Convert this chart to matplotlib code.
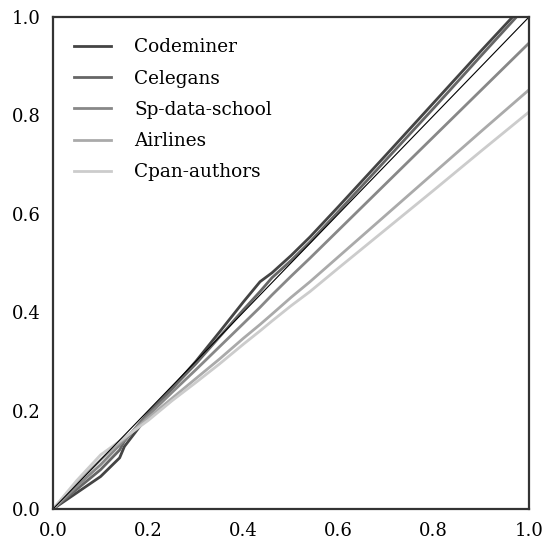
import numpy as np
import matplotlib.pyplot as plt

plt.rcParams['font.family'] = ['DejaVu Serif']

# fraction of nodes (x) vs fraction captured (y)
x_pts = [0.0, 0.05, 0.1, 0.14, 0.15, 0.2, 0.25, 0.3, 0.35, 0.4, 0.435, 0.46, 0.5,
         0.54, 0.6, 0.7, 0.8, 0.9, 1.0]

codeminer = [0.0, 0.033, 0.066, 0.104, 0.127, 0.19, 0.245, 0.3, 0.36, 0.421, 0.462,
             0.48, 0.515, 0.553, 0.615, 0.72, 0.826, 0.932, 1.036]
celegans = [0.0, 0.04, 0.08, 0.12, 0.138, 0.195, 0.245, 0.295, 0.35, 0.405, 0.442,
            0.47, 0.505, 0.543, 0.605, 0.71, 0.815, 0.922, 1.028]
sp_data_school = [0.0, 0.046, 0.09, 0.13, 0.14, 0.19, 0.237, 0.283, 0.33, 0.377, 0.41,
                  0.435, 0.473, 0.51, 0.567, 0.662, 0.757, 0.852, 0.947]
airlines = [0.0, 0.053, 0.1, 0.135, 0.143, 0.185, 0.225, 0.265, 0.305, 0.347, 0.375,
            0.396, 0.43, 0.462, 0.513, 0.598, 0.683, 0.768, 0.852]
cpan_authors = [0.0, 0.058, 0.11, 0.138, 0.145, 0.18, 0.22, 0.257, 0.295, 0.335, 0.362,
                0.382, 0.413, 0.442, 0.49, 0.569, 0.648, 0.728, 0.807]

nombres = ['Codeminer', 'Celegans', 'Sp-data-school', 'Airlines', 'Cpan-authors']
series = [codeminer, celegans, sp_data_school, airlines, cpan_authors]
colores = ['#444444', '#666666', '#888888', '#aaaaaa', '#cccccc']

fig = plt.figure(figsize=(5.43, 5.45), dpi=100)
ax = fig.add_axes([53 / 543, 36 / 545, 476 / 543, 492 / 545])

for nombre, ys, c in zip(nombres, series, colores):
    ax.plot(x_pts, ys, color=c, lw=2.0, label=nombre)
ax.plot([0, 1], [0, 1], color='black', lw=0.8)

ax.set_xlim(0, 1)
ax.set_ylim(0, 1)
ax.set_xticks(np.arange(0, 1.01, 0.2))
ax.set_yticks(np.arange(0, 1.01, 0.2))
ax.tick_params(length=0, labelsize=13, pad=9)
for s in ax.spines.values():
    s.set_color('#333333')
    s.set_linewidth(1.6)

ax.legend(loc='upper left', frameon=False, fontsize=13.3, handlelength=2.0,
          handletextpad=1.25, labelspacing=0.72, borderaxespad=0.75)

fig.savefig('out.png', dpi=100)
